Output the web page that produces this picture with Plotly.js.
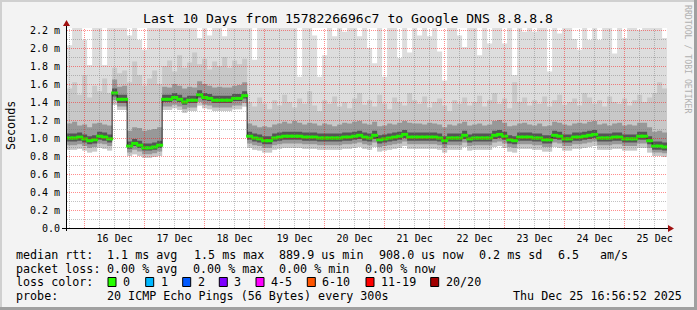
<!DOCTYPE html>
<html><head><meta charset="utf-8">
<script src="https://cdn.plot.ly/plotly-3.0.1.min.js"></script>
<style>html,body{margin:0;padding:0;background:#f3f3f3;}#chart{width:697px;height:310px;}</style>
</head><body><div id="chart"></div>
<script>
// ---------- data ----------
const startTime = Date.UTC(2025, 11, 15, 17, 0, 0);   // first 2-hour step
const stepHours = 2;
const timeRange = ['2025-12-15 16:56:52', '2025-12-25 16:56:52'];

const dayTicks = ['2025-12-16 12:00','2025-12-17 12:00','2025-12-18 12:00','2025-12-19 12:00','2025-12-20 12:00',
                  '2025-12-21 12:00','2025-12-22 12:00','2025-12-23 12:00','2025-12-24 12:00','2025-12-25 12:00'];
const dayLabels = ['16 Dec','17 Dec','18 Dec','19 Dec','20 Dec','21 Dec','22 Dec','23 Dec','24 Dec','25 Dec'];
const yTicks = [0,0.2,0.4,0.6,0.8,1.0,1.2,1.4,1.6,1.8,2.0,2.2];
const yLabels = ['0.0','0.2 m','0.4 m','0.6 m','0.8 m','1.0 m','1.2 m','1.4 m','1.6 m','1.8 m','2.0 m','2.2 m'];

// median rtt (ms)
const med = [
1.00,1.00,1.01,0.99,0.97,0.98,1.02,1.01,0.99,1.50,
1.43,1.43,0.91,0.94,0.92,0.89,0.89,0.90,0.92,1.43,
1.43,1.45,1.43,1.40,1.42,1.42,1.48,1.45,1.44,1.42,
1.42,1.42,1.42,1.44,1.44,1.47,1.02,1.00,0.99,0.97,
0.97,1.00,1.01,1.02,1.02,1.02,1.02,1.01,1.01,1.01,
1.00,1.00,1.00,1.00,1.00,1.01,1.01,1.02,1.03,1.01,
1.00,1.03,0.98,0.99,1.00,1.01,1.02,1.04,1.01,1.01,
1.01,1.01,1.01,1.01,1.00,0.97,1.00,1.00,1.00,1.03,
0.99,1.00,1.00,1.00,1.00,1.03,1.04,1.02,0.98,0.97,
1.01,1.01,1.01,1.00,1.00,0.98,0.98,1.03,1.02,0.99,
0.99,1.01,1.01,1.02,1.03,1.04,1.00,1.00,1.00,1.01,
1.01,0.99,0.99,0.99,1.02,1.02,0.97,0.91,0.91,0.90];
// lowest ping
const pingMin = [
0.87,0.87,0.88,0.86,0.84,0.85,0.89,0.88,0.86,1.37,
1.31,1.31,0.80,0.82,0.80,0.78,0.78,0.79,0.80,1.31,
1.31,1.33,1.31,1.28,1.30,1.30,1.36,1.33,1.32,1.30,
1.30,1.30,1.30,1.32,1.32,1.35,0.89,0.87,0.86,0.84,
0.84,0.87,0.88,0.89,0.89,0.89,0.89,0.88,0.88,0.88,
0.87,0.87,0.87,0.87,0.87,0.88,0.88,0.89,0.90,0.88,
0.87,0.90,0.85,0.86,0.87,0.88,0.89,0.91,0.88,0.88,
0.88,0.88,0.88,0.88,0.87,0.84,0.87,0.87,0.87,0.90,
0.86,0.87,0.87,0.87,0.87,0.90,0.91,0.89,0.85,0.84,
0.88,0.88,0.88,0.87,0.87,0.85,0.85,0.90,0.89,0.86,
0.86,0.88,0.88,0.89,0.90,0.91,0.87,0.87,0.87,0.88,
0.88,0.86,0.86,0.86,0.89,0.89,0.84,0.80,0.80,0.79];
// 5th ping
const ping5 = [
0.92,0.92,0.93,0.91,0.89,0.90,0.94,0.93,0.91,1.42,
1.35,1.35,0.84,0.87,0.85,0.82,0.82,0.83,0.85,1.35,
1.35,1.37,1.35,1.32,1.34,1.34,1.40,1.37,1.36,1.34,
1.34,1.34,1.34,1.36,1.36,1.39,0.94,0.92,0.91,0.89,
0.89,0.92,0.93,0.94,0.94,0.94,0.94,0.93,0.93,0.93,
0.92,0.92,0.92,0.92,0.92,0.93,0.93,0.94,0.95,0.93,
0.92,0.95,0.90,0.91,0.92,0.93,0.94,0.96,0.93,0.93,
0.93,0.93,0.93,0.93,0.92,0.89,0.92,0.92,0.92,0.95,
0.91,0.92,0.92,0.92,0.92,0.95,0.96,0.94,0.90,0.89,
0.93,0.93,0.93,0.92,0.92,0.90,0.90,0.95,0.94,0.91,
0.91,0.93,0.93,0.94,0.95,0.96,0.92,0.92,0.92,0.93,
0.93,0.91,0.91,0.91,0.94,0.94,0.89,0.84,0.84,0.83];
// 8th ping
const ping8 = [
0.96,0.96,0.97,0.95,0.93,0.94,0.98,0.97,0.95,1.46,
1.39,1.39,0.88,0.91,0.89,0.86,0.86,0.87,0.89,1.40,
1.40,1.42,1.40,1.37,1.39,1.39,1.45,1.42,1.41,1.39,
1.39,1.39,1.39,1.41,1.41,1.44,0.98,0.96,0.95,0.93,
0.93,0.96,0.97,0.98,0.98,0.98,0.98,0.97,0.97,0.97,
0.96,0.96,0.96,0.96,0.96,0.97,0.97,0.98,0.99,0.97,
0.96,0.99,0.94,0.95,0.96,0.97,0.98,1.00,0.97,0.97,
0.97,0.97,0.97,0.97,0.96,0.93,0.96,0.96,0.96,0.99,
0.95,0.96,0.96,0.96,0.96,0.99,1.00,0.98,0.94,0.93,
0.97,0.97,0.97,0.96,0.96,0.94,0.94,0.99,0.98,0.95,
0.95,0.97,0.97,0.98,0.99,1.00,0.96,0.96,0.96,0.97,
0.97,0.95,0.95,0.95,0.98,0.98,0.93,0.87,0.87,0.86];
// 13th ping
const ping13 = [
1.05,1.05,1.06,1.04,1.02,1.03,1.07,1.06,1.04,1.55,
1.48,1.48,0.96,0.99,0.97,0.94,0.94,0.95,0.97,1.48,
1.48,1.50,1.48,1.45,1.47,1.47,1.53,1.50,1.49,1.47,
1.47,1.47,1.47,1.49,1.49,1.52,1.07,1.05,1.04,1.02,
1.02,1.05,1.06,1.07,1.07,1.07,1.07,1.06,1.06,1.06,
1.05,1.05,1.05,1.05,1.05,1.06,1.06,1.07,1.08,1.06,
1.05,1.08,1.03,1.04,1.05,1.06,1.07,1.09,1.06,1.06,
1.06,1.06,1.06,1.06,1.05,1.02,1.05,1.05,1.05,1.08,
1.04,1.05,1.05,1.05,1.05,1.08,1.09,1.07,1.03,1.02,
1.06,1.06,1.06,1.05,1.05,1.03,1.03,1.08,1.07,1.04,
1.04,1.06,1.06,1.07,1.08,1.09,1.05,1.05,1.05,1.06,
1.06,1.04,1.04,1.04,1.07,1.07,1.02,0.96,0.96,0.95];
// 16th ping
const ping16 = [
1.16,1.18,1.14,1.15,1.12,1.16,1.17,1.15,1.14,1.65,
1.57,1.58,1.08,1.12,1.11,1.08,1.09,1.10,1.12,1.57,
1.56,1.60,1.58,1.55,1.57,1.56,1.63,1.60,1.58,1.56,
1.57,1.56,1.56,1.58,1.59,1.62,1.16,1.14,1.12,1.13,
1.12,1.15,1.16,1.18,1.16,1.19,1.17,1.15,1.17,1.16,
1.14,1.16,1.15,1.13,1.15,1.17,1.16,1.18,1.19,1.16,
1.15,1.18,1.13,1.14,1.16,1.15,1.17,1.19,1.17,1.16,
1.16,1.15,1.17,1.16,1.15,1.12,1.15,1.14,1.16,1.18,
1.14,1.15,1.16,1.14,1.15,1.19,1.20,1.17,1.13,1.14,
1.16,1.17,1.15,1.14,1.16,1.13,1.14,1.18,1.17,1.15,
1.14,1.16,1.17,1.16,1.18,1.19,1.15,1.16,1.14,1.16,
1.17,1.14,1.15,1.14,1.17,1.17,1.12,1.07,1.08,1.06];
// 19th ping
const ping19 = [
1.55,1.62,1.48,1.70,1.45,1.58,1.52,1.66,1.50,1.78,
1.72,1.75,1.62,1.85,1.70,1.58,1.66,1.75,1.60,1.80,
1.86,1.74,1.92,1.78,1.84,1.95,1.82,1.88,1.76,1.85,
1.80,1.90,1.78,1.86,1.82,1.88,1.40,1.35,1.45,1.38,
1.32,1.42,1.36,1.48,1.40,1.34,1.44,1.38,1.52,1.36,
1.30,1.42,1.38,1.46,1.35,1.40,1.33,1.44,1.50,1.37,
1.42,1.35,1.48,1.38,1.32,1.45,1.40,1.36,1.50,1.42,
1.38,1.46,1.34,1.40,1.44,1.36,1.30,1.42,1.38,1.45,
1.36,1.40,1.47,1.35,1.42,1.50,1.38,1.44,1.33,1.62,
1.40,1.45,1.36,1.42,1.38,1.46,1.35,1.42,1.48,1.37,
1.40,1.44,1.36,1.50,1.45,1.38,1.42,1.35,1.46,1.40,
1.38,1.44,1.36,1.42,1.48,1.40,1.45,1.50,1.62,1.55];
// highest ping (values above 2.22 leave the graph)
const pingMax = [
2.03,2.40,2.40,2.09,1.81,2.40,2.40,1.81,2.40,2.40,
2.40,2.40,2.14,2.40,2.09,1.98,2.40,2.40,2.40,2.40,
2.40,2.40,2.40,2.40,2.40,2.40,2.11,2.40,2.14,2.40,
2.40,2.13,2.40,2.40,2.40,2.40,2.40,1.87,2.40,2.40,
2.40,2.40,2.40,2.40,2.40,2.40,1.68,2.40,2.40,2.14,
1.68,1.92,2.40,2.13,2.40,2.18,2.40,2.40,2.13,2.40,
2.00,1.83,2.40,1.68,2.40,2.40,1.89,2.40,1.95,2.40,
2.14,2.40,2.13,2.40,1.96,1.64,2.40,2.40,2.14,2.01,
2.40,2.40,1.92,2.40,2.05,2.40,2.40,2.05,2.40,1.70,
2.40,2.18,2.40,2.18,2.40,2.40,1.74,2.40,2.16,2.40,
2.40,2.10,1.98,2.40,2.09,2.40,2.09,2.40,2.40,1.94,
2.40,2.11,2.40,2.40,2.20,2.40,2.40,2.40,2.40,2.11];

const titleText = 'Last 10 Days from 1578226696c7 to Google DNS 8.8.8.8';
const rttStats = ['median rtt:','1.1 ms avg','1.5 ms max','889.9 us min','908.0 us now','0.2 ms sd','6.5','am/s'];
const lossStats = ['packet loss:','0.00 % avg','0.00 % max','0.00 % min','0.00 % now'];
const lossLabels = ['0','1','2','3','4-5','6-10','11-19','20/20'];
const lossColors = ['#26ff00','#00b8ff','#0059ff','#7e00ff','#ff00ff','#ff5500','#ff0000','#a10000'];
const probeText = ['probe:','20 ICMP Echo Pings (56 Bytes) every 300s','Thu Dec 25 16:56:52 2025'];

// ---------- helpers ----------
const STEP = stepHours * 3600000;
function fmt(ms){ return new Date(ms).toISOString().slice(0,19).replace('T',' '); }
const n = med.length;
const xs = [], xm = [];
for (let k = 0; k <= n; k++) xs.push(fmt(startTime + k*STEP));
for (let k = 0; k < n; k++) xm.push(fmt(startTime + k*STEP + STEP/2));
const ext = a => a.concat([a[a.length-1]]);

const L = 67, T = 28, PW = 600, PH = 200;
const YMAX = 200/90;
const px = v => (v - L) / PW;
const py = v => (T + PH - v) / PH;
const MONO = 'DejaVu Sans Mono, monospace';

const traces = [];
function band(lower, upper, color){
  traces.push({x: xs, y: ext(lower), mode:'lines', line:{width:0, shape:'hv'}, hoverinfo:'skip', showlegend:false});
  traces.push({x: xs, y: ext(upper), mode:'lines', line:{width:0, shape:'hv'}, fill:'tonexty', fillcolor:color, hoverinfo:'skip', showlegend:false});
}
band(pingMin, pingMax, '#dddddd');
band(pingMin, ping19, '#c8c8c8');
band(ping5, ping16, '#989898');
band(ping8, ping13, '#555555');
traces.push({x: xs, y: ext(med), mode:'lines', line:{width:1, shape:'hv', color:'#202020'}, hoverinfo:'skip', showlegend:false});
traces.push({x: xm, y: med, mode:'markers', marker:{symbol:'line-ew', size:5, line:{width:3, color:'#22ee00'}}, hoverinfo:'skip', showlegend:false});

const ann = [];
function txt(t, x, y, o){
  ann.push(Object.assign({text:t, x:px(x), y:py(y), xref:'paper', yref:'paper', xanchor:'left', yanchor:'middle',
    showarrow:false, borderpad:0, font:{family:MONO, size:11.7, color:'#000'}}, o||{}));
}
txt(titleText, 347.5, 18.5, {xanchor:'center', font:{family:MONO, size:13.1, color:'#000'}});
txt('Seconds', 11, 126, {xanchor:'center', textangle:-90});
txt('RRDTOOL / TOBI OETIKER', 688, 59, {xanchor:'center', textangle:90, font:{family:MONO, size:8.2, color:'#b0b0b0'}});
const rttX = [16,107.3,194,279.3,379.3,479.3,558.3,600];
rttStats.forEach((t,i)=>txt(t, rttX[i]-1, 255));
const lossX = [16,107.3,193.3,279.3,365];
lossStats.forEach((t,i)=>txt(t, lossX[i]-1, 268.5));
txt('loss color:', 15, 282);
const sqX = [108,145.7,182.7,219.3,256,307.3,366,430.7];
const lblX = [123,160.7,197.7,234.3,270.7,321.7,380.7,446];
lossLabels.forEach((t,i)=>txt(t, lblX[i]-1, 282));
const probeX = [16,107.3,513.3];
probeText.forEach((t,i)=>txt(t, probeX[i]-1, 296));

const shapes = [];
shapes.push({type:'rect', xref:'paper', yref:'paper', x0:0, x1:1, y0:0, y1:1, fillcolor:'#ffffff', line:{width:0}, layer:'below'});

// grid drawn over the smoke (as rrdtool does), snapped to pixel centres
const gridRed = 'rgba(255,0,0,0.45)';
const gridGray = 'rgba(120,120,120,0.45)';
const t0 = Date.parse(timeRange[0].replace(' ','T')+'Z'), t1 = Date.parse(timeRange[1].replace(' ','T')+'Z');
const msPerPx = (t1 - t0) / PW;
for (let t = Date.UTC(2025,11,15,18,0,0); t < t1; t += 6*3600000) {
  if (t <= t0) continue;
  const xpix = L + (t - t0) / msPerPx;
  const ts = t + (Math.floor(xpix) + 0.5 - xpix) * msPerPx;
  const major = new Date(t).getUTCHours() === 0;
  shapes.push({type:'line', xref:'x', yref:'paper', x0:fmt(ts), x1:fmt(ts), y0:0, y1:1, layer:'above',
    line:{color: major ? gridRed : gridGray, width:1, dash:'1px,1px'}});
}
for (let i = 1; i <= 22; i++) {
  const v = i/10 - 0.5*YMAX/PH;
  shapes.push({type:'line', xref:'paper', yref:'y', x0:0, x1:1, y0:v, y1:v, layer:'above',
    line:{color: i%2===0 ? gridRed : gridGray, width:1, dash:'1px,1px'}});
}

lossColors.forEach((c,i)=>shapes.push({type:'rect', xref:'paper', yref:'paper', x0:px(sqX[i]), x1:px(sqX[i]+8), y0:py(286.5), y1:py(277.5), fillcolor:c, line:{width:1, color:'#000'}, layer:'above'}));
function seg(x0,y0,x1,y1,c,w){ shapes.push({type:'line', xref:'paper', yref:'paper', x0:px(x0), y0:py(y0), x1:px(x1), y1:py(y1), line:{color:c, width:w}, layer:'above'}); }
seg(62,228.5,669,228.5,'#000',1);
seg(66.5,231,66.5,24,'#000',1);
function tri(pts,c){ shapes.push({type:'path', xref:'paper', yref:'paper', layer:'above', fillcolor:c, line:{width:0},
  path: 'M' + pts.map(p=>px(p[0])+','+py(p[1])).join(' L') + ' Z'}); }
tri([[63,26],[70,26],[66.5,20]], '#a01010');
tri([[668,225],[668,232],[674,228.5]], '#a01010');
seg(0,1,697,1,'#d0d0d0',2);
seg(1,0,1,310,'#d0d0d0',2);
seg(0,308.5,697,308.5,'#a0a0a0',3);
seg(695.5,0,695.5,310,'#a0a0a0',3);

const layout = {
  width:697, height:310, margin:{l:L, r:697-L-PW, t:T, b:310-T-PH, pad:0},
  paper_bgcolor:'#f3f3f3', plot_bgcolor:'rgba(0,0,0,0)', showlegend:false,
  xaxis:{type:'date', range:timeRange, tickvals:dayTicks, ticktext:dayLabels, showgrid:false, zeroline:false, showline:false,
         ticks:'', ticklabelstandoff:3, tickfont:{family:MONO, size:10, color:'#000'}, fixedrange:true},
  yaxis:{range:[0, YMAX], tickvals:yTicks, ticktext:yLabels, showgrid:false, zeroline:false, showline:false,
         ticks:'', ticklabelstandoff:6, tickfont:{family:MONO, size:10, color:'#000'}, fixedrange:true},
  annotations:ann, shapes:shapes
};
Plotly.newPlot('chart', traces, layout, {staticPlot:true, displayModeBar:false});
</script></body></html>
